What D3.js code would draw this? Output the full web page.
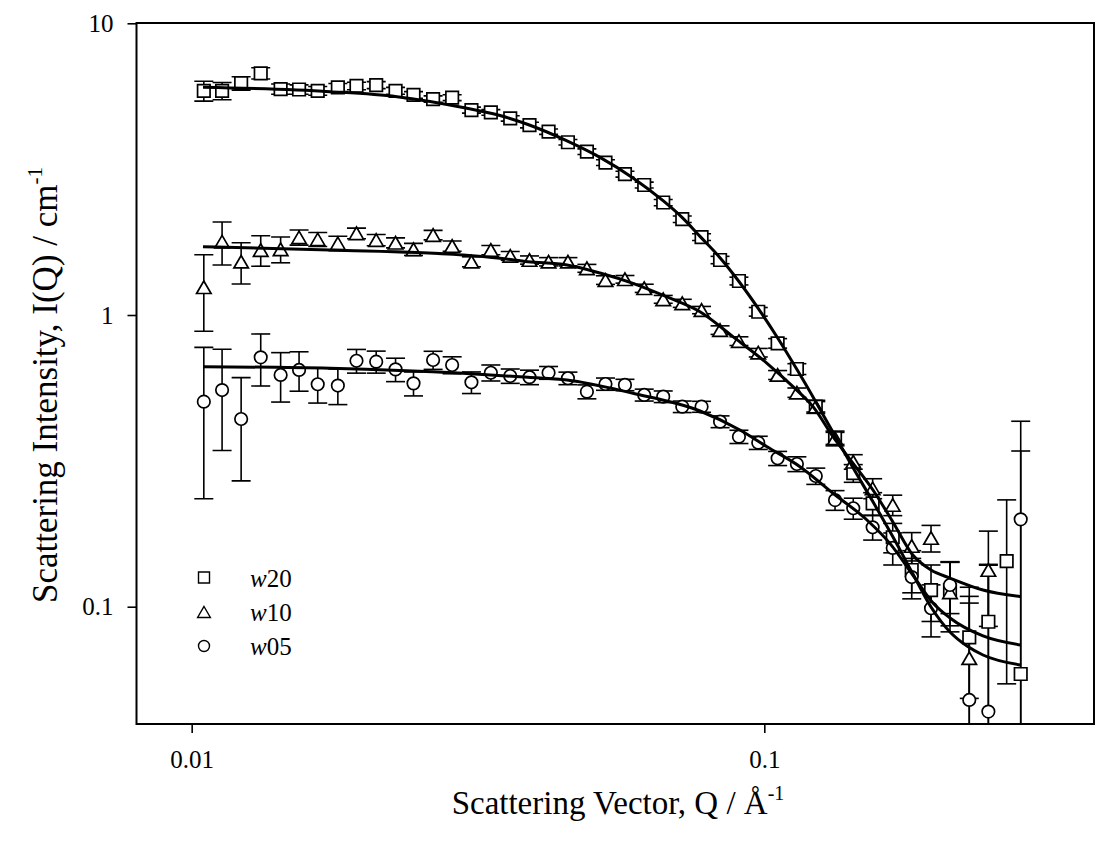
<!DOCTYPE html>
<html><head><meta charset="utf-8">
<script src="https://cdn.jsdelivr.net/npm/d3@7"></script>
<style>body{margin:0;background:#fff}svg{display:block}</style>
</head><body>
<svg id="c" width="1102" height="845"></svg>
<script>
// ---------- data ----------
const qValues = [0.0105, 0.0113, 0.0122, 0.0132, 0.0143, 0.0154, 0.0166, 0.0180, 0.0194, 0.0210,
  0.0227, 0.0244, 0.0264, 0.0285, 0.0308, 0.0333, 0.0360, 0.0389, 0.0420, 0.0454,
  0.0490, 0.0528, 0.0571, 0.0617, 0.0666, 0.0719, 0.0777, 0.0837, 0.0903, 0.0976,
  0.1055, 0.1140, 0.1230, 0.1329, 0.1430, 0.1546, 0.1676, 0.1809, 0.1955, 0.2110,
  0.2280, 0.2462, 0.2650, 0.2804];

const w20I = [5.87, 5.87, 6.23, 6.74, 5.95, 5.93, 5.87, 6.03, 6.10, 6.14,
  5.87, 5.68, 5.50, 5.56, 5.04, 4.95, 4.72, 4.48, 4.25, 3.91,
  3.63, 3.33, 3.04, 2.79, 2.43, 2.13, 1.85, 1.544, 1.308, 1.026,
  0.80, 0.653, 0.485, 0.378, 0.287, 0.226, 0.173, 0.1336, 0.114, 0.114,
  0.0785, 0.0888, 0.1434, 0.0588];
const w20Err = [0.46, 0.40, 0.33, 0.30, 0.24, 0.22, 0.20, 0.19, 0.18, 0.17,
  0.16, 0.15, 0.14, 0.13, 0.12, 0.11, 0.10, 0.10, 0.09, 0.085,
  0.08, 0.075, 0.07, 0.065, 0.06, 0.055, 0.05, 0.045, 0.04, 0.035,
  0.03, 0.028, 0.025, 0.022, 0.02, 0.02, 0.02, 0.022, 0.025, 0.028,
  0.03, 0.05, 0.089, 0.283];

const w10I = [1.245, 1.784, 1.523, 1.670, 1.680, 1.846, 1.817, 1.761, 1.906, 1.807,
  1.769, 1.680, 1.880, 1.724, 1.523, 1.670, 1.595, 1.544, 1.523, 1.523,
  1.446, 1.318, 1.326, 1.235, 1.132, 1.097, 1.040, 0.888, 0.814, 0.743,
  0.623, 0.542, 0.485, 0.378, 0.314, 0.2546, 0.2232, 0.1615, 0.172, 0.112,
  0.0666, 0.1336, null, null];
const w10Err = [0.365, 0.30, 0.245, 0.20, 0.17, 0.11, 0.10, 0.10, 0.08, 0.08,
  0.07, 0.08, 0.07, 0.07, 0.06, 0.06, 0.055, 0.05, 0.05, 0.05,
  0.045, 0.045, 0.04, 0.04, 0.035, 0.035, 0.03, 0.03, 0.028, 0.025,
  0.022, 0.02, 0.02, 0.018, 0.018, 0.02, 0.018, 0.018, 0.018, 0.03,
  0.05, 0.048, null, null];

const w05I = [0.5045, 0.553, 0.440, 0.716, 0.623, 0.648, 0.579, 0.573, 0.697, 0.692,
  0.651, 0.583, 0.701, 0.674, 0.588, 0.634, 0.618, 0.612, 0.634, 0.607,
  0.546, 0.580, 0.576, 0.532, 0.525, 0.485, 0.485, 0.431, 0.3826, 0.365,
  0.3227, 0.3085, 0.2806, 0.232, 0.2175, 0.1872, 0.159, 0.1264, 0.0988, 0.1187,
  0.0479, 0.0437, null, 0.1993];
const w05Err = [0.27, 0.21, 0.17, 0.145, 0.12, 0.10, 0.08, 0.08, 0.065, 0.06,
  0.06, 0.055, 0.05, 0.045, 0.05, 0.04, 0.035, 0.035, 0.032, 0.03,
  0.03, 0.028, 0.026, 0.025, 0.024, 0.022, 0.021, 0.02, 0.02, 0.019,
  0.018, 0.018, 0.018, 0.018, 0.018, 0.018, 0.02, 0.02, 0.02, 0.024,
  0.055, 0.096, null, 0.233];

// fitted model curves
const w20FitQ = [0.010465, 0.017436, 0.022835, 0.029771, 0.034548, 0.038664, 0.045230, 0.051650, 0.058970, 0.066551,
  0.071832, 0.077212, 0.083678, 0.090305, 0.097499, 0.10567, 0.11404, 0.12311, 0.13288, 0.14289,
  0.15479, 0.16769, 0.18171, 0.19548, 0.21101, 0.22594, 0.24094, 0.28075];
const w20FitI = [6.034, 5.831, 5.604, 5.145, 4.829, 4.499, 3.953, 3.470, 2.951, 2.465,
  2.161, 1.860, 1.572, 1.303, 1.056, 0.831, 0.650, 0.5025, 0.3854, 0.2993,
  0.2289, 0.1736, 0.1297, 0.0998, 0.0819, 0.0733, 0.0683, 0.0631];

const w10FitQ = [0.010465, 0.017436, 0.029771, 0.034548, 0.038664, 0.045230, 0.051650, 0.058970, 0.067630, 0.077212,
  0.088149, 0.10109, 0.11223, 0.12164, 0.13181, 0.14289, 0.15479, 0.16769, 0.18171, 0.19548,
  0.21101, 0.24094, 0.28075];
const w10FitI = [1.714, 1.670, 1.606, 1.565, 1.523, 1.484, 1.393, 1.284, 1.153, 1.026,
  0.843, 0.683, 0.568, 0.485, 0.3826, 0.3102, 0.2513, 0.1952, 0.1504, 0.1336,
  0.1254, 0.1141, 0.1082];

const w05FitQ = [0.010465, 0.017436, 0.029771, 0.038664, 0.045230, 0.058970, 0.077212, 0.090666, 0.10109, 0.11543,
  0.13181, 0.15110, 0.16568, 0.18171, 0.19705, 0.21101, 0.24094, 0.28075];
const w05FitI = [0.6649, 0.6566, 0.6311, 0.6115, 0.5987, 0.5390, 0.4688, 0.4035, 0.3535, 0.3020,
  0.2448, 0.1983, 0.1649, 0.1284, 0.1030, 0.0915, 0.0794, 0.0739];

const seriesNames = ["w20", "w10", "w05"];
const seriesShapes = ["square", "triangle", "circle"];
const xTickValues = [0.01, 0.1];
const xTickLabels = ["0.01", "0.1"];
const yTickValues = [0.1, 1, 10];
const yTickLabels = ["0.1", "1", "10"];
const xDomain = [0.00801, 0.3765];
const yDomain = [0.03962, 10.024];

// ---------- drawing ----------
const FONT = "'Liberation Serif','Times New Roman',Times,serif";
const L = 136.5, R = 1094, T = 23, B = 724;
const svg = d3.select("#c");
const x = d3.scaleLog().domain(xDomain).range([L, R]);
const y = d3.scaleLog().domain(yDomain).range([B, T]);

svg.append("defs").append("clipPath").attr("id", "plot")
  .append("rect").attr("x", L).attr("y", T).attr("width", R - L).attr("height", B - T);

const series = [
  {I: w20I, E: w20Err, fq: w20FitQ, fi: w20FitI},
  {I: w10I, E: w10Err, fq: w10FitQ, fi: w10FitI},
  {I: w05I, E: w05Err, fq: w05FitQ, fi: w05FitI}
];
series.forEach((s, k) => { s.name = seriesNames[k]; s.shape = seriesShapes[k]; });

const plot = svg.append("g").attr("clip-path", "url(#plot)");

function symbolPath(shape, size) {
  if (shape === "square") { const h = size / 2; return `M${-h},${-h}H${h}V${h}H${-h}Z`; }
  if (shape === "triangle") { const w = size * 0.58, hh = size * 0.5; return `M0,${-hh}L${w},${hh}L${-w},${hh}Z`; }
  const r = size / 2; return `M${r},0A${r},${r} 0 1,1 ${-r},0A${r},${r} 0 1,1 ${r},0Z`;
}

// error bars
const CAP = 9.5;
series.forEach(s => {
  const eg = plot.append("g").attr("stroke", "#000").attr("stroke-width", 1.6).attr("fill", "none");
  qValues.forEach((q, i) => {
    const v = s.I[i], e = s.E[i];
    if (v == null || e == null) return;
    const px = x(q);
    const top = y(v + e);
    const lowVal = v - e;
    const bot = lowVal > yDomain[0] ? y(lowVal) : B + 5;
    eg.append("line").attr("x1", px).attr("x2", px).attr("y1", top).attr("y2", bot);
    eg.append("line").attr("x1", px - CAP).attr("x2", px + CAP).attr("y1", top).attr("y2", top);
    if (lowVal > yDomain[0]) eg.append("line").attr("x1", px - CAP).attr("x2", px + CAP).attr("y1", bot).attr("y2", bot);
  });
});

// symbols
series.forEach(s => {
  const sg = plot.append("g");
  qValues.forEach((q, i) => {
    const v = s.I[i];
    if (v == null) return;
    sg.append("path").attr("d", symbolPath(s.shape, 12.5))
      .attr("transform", `translate(${x(q)},${y(v)})`)
      .attr("fill", "#fff").attr("stroke", "#000").attr("stroke-width", 1.7);
  });
});

// fitted curves
const line = d3.line().x(d => x(d[0])).y(d => y(d[1])).curve(d3.curveMonotoneX);
series.forEach(s => {
  plot.append("path").datum(s.fq.map((q, i) => [q, s.fi[i]]))
    .attr("d", line).attr("fill", "none").attr("stroke", "#000").attr("stroke-width", 3);
});

// frame
svg.append("rect").attr("x", L).attr("y", T).attr("width", R - L).attr("height", B - T)
  .attr("fill", "none").attr("stroke", "#000").attr("stroke-width", 2);

// axes
const xAxis = svg.append("g").attr("transform", `translate(0,${B})`)
  .call(d3.axisBottom(x).tickValues(xTickValues).tickFormat((d, i) => xTickLabels[i]).tickSize(9).tickSizeOuter(0).tickPadding(17));
const yAxis = svg.append("g").attr("transform", `translate(${L},0)`)
  .call(d3.axisLeft(y).tickValues(yTickValues).tickFormat((d, i) => yTickLabels[i]).tickSize(9).tickSizeOuter(0).tickPadding(14));
[xAxis, yAxis].forEach(a => {
  a.select(".domain").remove();
  a.selectAll(".tick line").attr("stroke", "#000").attr("stroke-width", 1.6);
  a.selectAll(".tick text").attr("fill", "#000").style("font-family", FONT).style("font-size", "25px");
});

// axis titles
const xt = svg.append("text").attr("x", 618).attr("y", 814).attr("text-anchor", "middle")
  .style("font-family", FONT).style("font-size", "33px").attr("fill", "#000");
xt.append("tspan").text("Scattering Vector, Q / Å");
xt.append("tspan").attr("dy", -14).style("font-size", "20px").text("-1");

const yt = svg.append("text").attr("transform", `translate(57,385) rotate(-90)`).attr("text-anchor", "middle")
  .style("font-family", FONT).style("font-size", "35px").attr("fill", "#000");
yt.append("tspan").text("Scattering Intensity, I(Q) / cm");
yt.append("tspan").attr("dy", -15).style("font-size", "21px").text("-1");

// legend
const legendY = [577.5, 612, 646];
series.forEach((s, k) => {
  svg.append("path").attr("d", symbolPath(s.shape, 11))
    .attr("transform", `translate(204,${legendY[k]})`)
    .attr("fill", "#fff").attr("stroke", "#000").attr("stroke-width", 1.4);
  const t = svg.append("text").attr("x", 250).attr("y", legendY[k] + 9)
    .style("font-family", FONT).style("font-size", "25px").attr("fill", "#000");
  t.append("tspan").style("font-style", "italic").text(s.name.charAt(0));
  t.append("tspan").text(s.name.slice(1));
});
</script>
</body></html>
